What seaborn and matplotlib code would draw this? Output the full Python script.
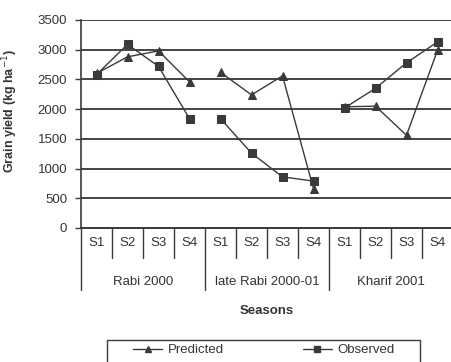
import matplotlib
matplotlib.use("Agg")
import matplotlib.pyplot as plt
import matplotlib.transforms as mtransforms
from matplotlib.lines import Line2D
from matplotlib.patches import Rectangle
import seaborn as sns
import pandas as pd

seasons = ["Rabi 2000", "late Rabi 2000-01", "Kharif 2001"]
sowings = ["S1", "S2", "S3", "S4"]
predicted = [2600, 2880, 2980, 2460,
             2620, 2240, 2560, 660,
             2040, 2050, 1560, 2990]
observed = [2580, 3090, 2720, 1840,
            1840, 1260, 860, 790,
            2020, 2350, 2780, 3130]
yticks = [0, 500, 1000, 1500, 2000, 2500, 3000, 3500]

rows = []
for i in range(len(predicted)):
    season = seasons[i // 4]
    rows.append({"pos": i, "season": season, "series": "Predicted", "yield": predicted[i]})
    rows.append({"pos": i, "season": season, "series": "Observed", "yield": observed[i]})
df = pd.DataFrame(rows)

sns.set_theme(style="white")
plt.rcParams["font.family"] = ["Liberation Sans", "DejaVu Sans"]

fs = 9.5
txt = "#333333"
ink = "#3a3a3a"

fig = plt.figure(figsize=(4.51, 3.62), dpi=100)
ax = fig.add_axes([81 / 451, 1 - 228 / 362, 372 / 451, 208 / 362])

styles = {"Predicted": "^", "Observed": "s"}
for name, mk in styles.items():
    sns.lineplot(data=df[df.series == name], x="pos", y="yield", units="season",
                 estimator=None, marker=mk, markersize=5.5, color=ink,
                 markeredgecolor=ink, linewidth=1.0, ax=ax, legend=False)

ax.set_xlim(-0.5, 11.5)
ax.set_ylim(0, 3500)
ax.set_yticks(yticks)
ax.set_yticklabels([str(v) for v in yticks], fontsize=fs, color=txt)
ax.tick_params(axis="y", length=4, width=1, color=ink, pad=6, left=True)
ax.set_xticks([])
ax.set_xlabel("")
ax.yaxis.grid(True, color="#444444", linewidth=1.4)
ax.set_axisbelow(True)
for s in ["top", "right"]:
    ax.spines[s].set_visible(False)
ax.spines["left"].set_color(ink)
ax.spines["left"].set_linewidth(1.2)
ax.spines["bottom"].set_color(ink)
ax.spines["bottom"].set_linewidth(1.4)

ax.set_ylabel("Grain yield (kg ha$^{-1}$)", fontsize=9, fontweight="bold", color=txt)
ax.yaxis.set_label_coords(-0.165, 0.56)

# two-level category axis: sowing dates over seasons
trans = mtransforms.blended_transform_factory(ax.transData, ax.transAxes)
for i, lab in enumerate(sowings * 3):
    ax.text(i, -0.072, lab, transform=trans, ha="center", va="center",
            fontsize=fs, color=txt)
for b in [x - 0.5 for x in range(13)]:
    depth = -0.30 if b in (-0.5, 3.5, 7.5, 11.5) else -0.145
    ax.add_line(Line2D([b, b], [0, depth], transform=trans, color=ink,
                       linewidth=1.0, clip_on=False))
for g, name in enumerate(seasons):
    ax.text(4 * g + 1.5, -0.26, name, transform=trans, ha="center", va="center",
            fontsize=fs, color=txt)

ax.text(0.5, -0.40, "Seasons", transform=ax.transAxes, ha="center", va="center",
        fontsize=fs, fontweight="bold", color=txt)

# legend box
fig.patches.append(Rectangle((107 / 451, -0.05), 313 / 451, 0.05 + 1 - 340 / 362,
                             transform=fig.transFigure, fill=False,
                             edgecolor=ink, linewidth=1.0))
handles = [Line2D([], [], color=ink, marker="^", markersize=4, linewidth=1.0),
           Line2D([], [], color=ink, marker="s", markersize=4, linewidth=1.0)]
fig.legend(handles, ["Predicted", "Observed"], loc="center",
           bbox_to_anchor=(0.585, 1 - 350 / 362), ncol=2, frameon=False,
           fontsize=fs, handlelength=2.2, handletextpad=0.4, columnspacing=6.0,
           labelcolor=txt)

fig.savefig("out.png", dpi=100)
